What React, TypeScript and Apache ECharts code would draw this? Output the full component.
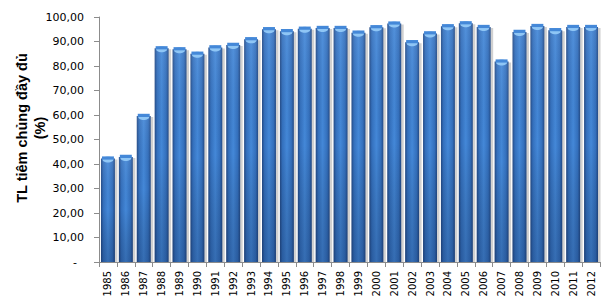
import React, { useEffect, useRef } from "react";
import * as echarts from "echarts";

const years = ["1985","1986","1987","1988","1989","1990","1991","1992","1993","1994","1995","1996","1997","1998","1999","2000","2001","2002","2003","2004","2005","2006","2007","2008","2009","2010","2011","2012"];
const values = [42.2,42.9,59.6,87.2,86.8,85.0,87.6,88.6,90.9,95.0,94.2,95.2,95.5,95.5,93.6,95.8,97.3,89.7,93.3,96.2,97.4,95.9,81.8,93.9,96.3,94.6,95.9,95.9];
const yTitle = "TL tiêm chủng đầy đủ\n(%)";

export default function App() {
  const ref = useRef<HTMLDivElement>(null);
  useEffect(() => {
    if (!ref.current) return;
    const chart = echarts.init(ref.current, null, { renderer: "svg" });
    const bodyFill = new echarts.graphic.LinearGradient(0, 0, 1, 0, [
      { offset: 0, color: "#234a86" },
      { offset: 0.18, color: "#3470bd" },
      { offset: 0.5, color: "#4488d8" },
      { offset: 0.82, color: "#3470bd" },
      { offset: 1, color: "#234a86" },
    ]);
    const shadeFill = new echarts.graphic.LinearGradient(0, 0, 0, 1, [
      { offset: 0, color: "rgba(255,255,255,0.08)" },
      { offset: 0.5, color: "rgba(0,0,0,0)" },
      { offset: 1, color: "rgba(10,30,70,0.25)" },
    ]);
    chart.setOption({
      animation: false,
      grid: { left: 99, right: 12, top: 17, bottom: 44 },
      xAxis: {
        type: "category",
        data: years,
        axisLine: { lineStyle: { color: "#8c8c8c", width: 1 } },
        axisTick: { show: true, alignWithLabel: false, length: 5, lineStyle: { color: "#8c8c8c" } },
        axisLabel: { rotate: 90, fontSize: 10, color: "#000", fontFamily: "DejaVu Sans", margin: 9 },
      },
      yAxis: {
        type: "value",
        min: 0,
        max: 100,
        interval: 10,
        splitLine: { show: false },
        axisLine: { show: true, lineStyle: { color: "#8c8c8c", width: 1 } },
        axisTick: { show: true, length: 5, lineStyle: { color: "#8c8c8c" } },
        axisLabel: {
          fontSize: 11,
          color: "#000",
          fontFamily: "DejaVu Sans",
          margin: 15,
          formatter: (v: number) => (v === 0 ? "-  " : v.toFixed(2).replace(".", ",")),
        },
      },
      graphic: [
        {
          type: "text",
          x: 31,
          y: 128,
          rotation: Math.PI / 2,
          style: {
            text: yTitle,
            fontSize: 14.5,
            fontWeight: "bold",
            fontFamily: "Liberation Sans",
            fill: "#000",
            align: "center",
            verticalAlign: "middle",
            lineHeight: 18,
          },
        },
      ],
      series: [
        {
          type: "custom",
          data: values.map((v, i) => [i, v]),
          encode: { x: 0, y: 1 },
          renderItem: (params: any, api: any) => {
            const top = api.coord([api.value(0), api.value(1)]);
            const base = api.coord([api.value(0), 0]);
            const cw = api.size([1, 0])[0];
            const w = cw * 0.78;
            const x = top[0] - w / 2;
            const h = base[1] - top[1];
            return {
              type: "group",
              children: [
                { type: "rect", shape: { x: x + 1.5, y: top[1] + 1, width: w + 1, height: h - 1 }, style: { fill: "rgba(120,120,120,0.35)" } },
                { type: "rect", shape: { x, y: top[1], width: w, height: h }, style: { fill: bodyFill } },
                { type: "rect", shape: { x, y: top[1], width: w, height: h }, style: { fill: shadeFill } },
                { type: "ellipse", shape: { cx: top[0], cy: top[1] + 1, rx: w / 2 - 1.5, ry: 3 }, style: { fill: "#8fc6f5" } },
                { type: "rect", shape: { x: x + 1, y: top[1] - 2.2, width: w - 2, height: 3.2 }, style: { fill: "#4488d8" } },
              ],
            };
          },
        },
      ],
    });
    return () => chart.dispose();
  }, []);
  return <div ref={ref} style={{ position: "absolute", left: 0, top: 0, width: 612, height: 306 }} />;
}
